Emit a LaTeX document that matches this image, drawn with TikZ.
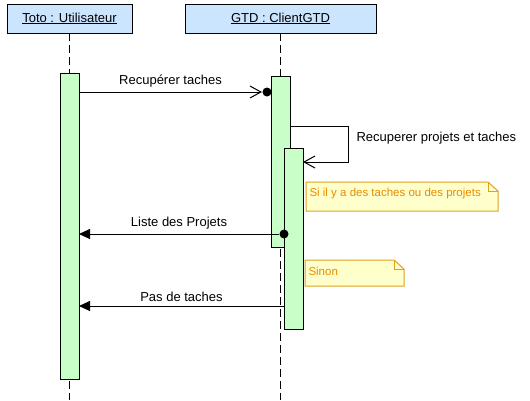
\documentclass[tikz,border=0pt]{standalone}
\usepackage{fontspec}
\setmainfont{Liberation Sans}
\usetikzlibrary{arrows.meta}
\definecolor{objblue}{RGB}{204,229,255}
\definecolor{actgreen}{RGB}{200,255,200}
\definecolor{noteyellow}{RGB}{255,255,204}
\definecolor{noteline}{RGB}{224,160,32}
\definecolor{notetext}{RGB}{230,140,0}
\tikzset{every picture/.style={/utils/exec={\fontsize{13}{15}\selectfont}}}

\begin{document}
\begin{tikzpicture}[x=1pt, y=-1pt, line width=1pt]
  \tikzstyle{object} = [rectangle, draw=black, fill=objblue, minimum height=29pt, inner sep=0pt, outer sep=0pt]
  \tikzstyle{activation} = [rectangle, draw=black, fill=actgreen, minimum width=19pt, inner sep=0pt, outer sep=0pt, anchor=north]
  \tikzstyle{lifeline} = [dash pattern=on 8pt off 4pt]
  \tikzstyle{note} = [text=notetext, anchor=west, inner sep=3pt, font=\fontsize{11.5}{13}\selectfont]
  \tikzstyle{noteframe} = [draw=noteline, fill=noteyellow]
  \tikzstyle{dot} = [circle, fill=black, minimum size=9pt, inner sep=0pt]

  \tikzstyle{call} = [-{Straight Barb[length=11pt, width=12pt]}]
  \tikzstyle{reply} = [-{Triangle[length=11pt, width=10pt]}]

  \useasboundingbox (0,0) rectangle (530,400);

  \node (toto) [object, minimum width=125pt] at (69.5,18.5) {\underline{Toto : Utilisateur}};
  \node (gtd) [object, minimum width=191pt] at (280.5,18.5) {\underline{GTD : ClientGTD}};

  % lifelines
  \coordinate (totoend) at (toto.south |- 0,400);
  \coordinate (gtdend) at (gtd.south |- 0,400);
  \draw [lifeline] (toto.south) -- (totoend);
  \draw [lifeline] (gtd.south) -- (gtdend);

  \node (act1) [activation, minimum height=306pt] at (69.5,73) {};
  \node (act2) [activation, minimum height=171pt] at (281,76) {};
  \node (act3) [activation, minimum height=181pt] at (293.5,148) {};

  % Recupérer taches
  \node (dot1) [dot] at (267,92) {};
  \draw [call] (act1.east |- dot1) -- node[above] {Recupérer taches} (dot1.west);

  % self call
  \coordinate (self1) at (act2.east |- 0,126);
  \coordinate (self2) at (act3.east |- 0,162);
  \draw [call] (self1) -- ++(58,0) |- (self2);
  \node (selflbl) [anchor=west, inner sep=3pt] at (353,138) {Recuperer projets et taches};

  % notes
  \coordinate (n1a) at (306,182);
  \coordinate (n1b) at (498,211);
  \draw [noteframe] (n1a) -- ([xshift=-10pt]n1a -| n1b) -- ([yshift=-9pt]n1a -| n1b) -- (n1b) -- (n1a |- n1b) -- cycle;
  \draw [noteline] ([xshift=-10pt]n1a -| n1b) |- ([yshift=-9pt]n1a -| n1b);
  \node (note1) [note] at (n1a |- 0,194) {Si il y a des taches ou des projets};

  \coordinate (n2a) at (305,260);
  \coordinate (n2b) at (404,286);
  \draw [noteframe] (n2a) -- ([xshift=-10pt]n2a -| n2b) -- ([yshift=-9pt]n2a -| n2b) -- (n2b) -- (n2a |- n2b) -- cycle;
  \draw [noteline] ([xshift=-10pt]n2a -| n2b) |- ([yshift=-9pt]n2a -| n2b);
  \node (note2) [note] at (n2a |- 0,271) {Sinon};

  % replies
  \node (dot2) [dot] at (act3.west |- 0,234) {};
  \draw [reply] (dot2) -- node[above] {Liste des Projets} (act1.east |- dot2);
  \coordinate (ret2) at (act3.west |- 0,306);
  \draw [reply] (ret2) -- node[above] {Pas de taches} (act1.east |- ret2);
\end{tikzpicture}
\end{document}
